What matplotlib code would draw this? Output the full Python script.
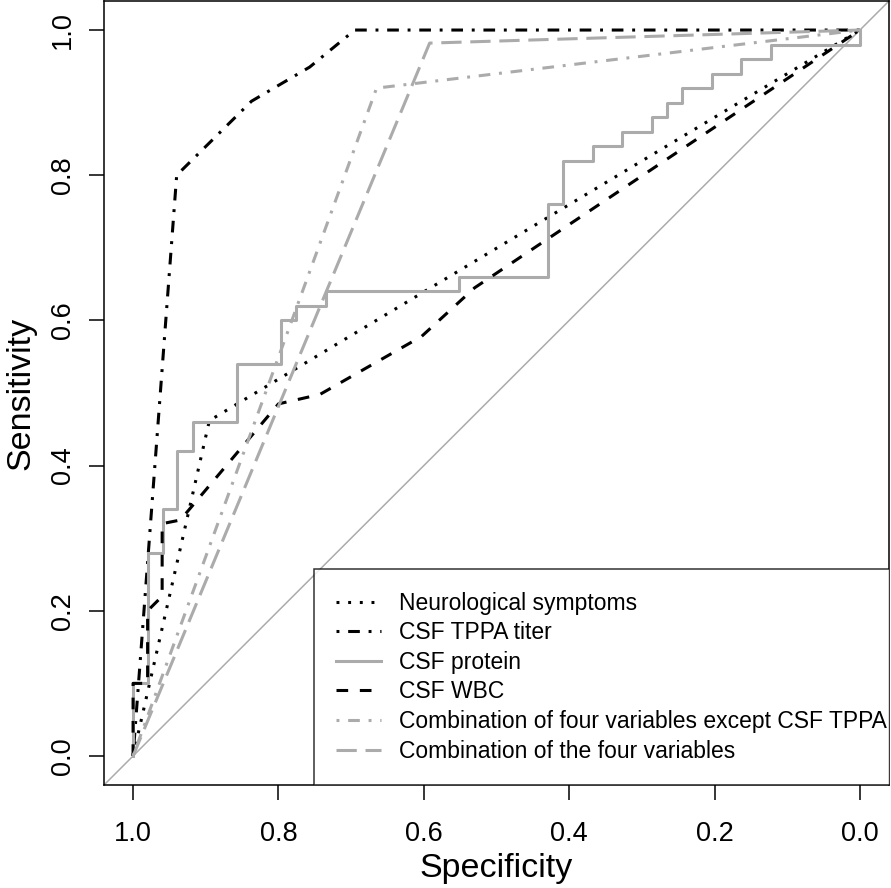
import matplotlib
matplotlib.use("Agg")
import matplotlib.pyplot as plt

plt.rcParams['font.family'] = ['Liberation Sans', 'DejaVu Sans']
plt.rcParams['lines.scale_dashes'] = False

# ROC curves (specificity, sensitivity)
neuro_spec = [1.0, 0.895, 0.0]
neuro_sens = [0.0, 0.462, 1.0]

tppa_spec = [1.0, 0.94, 0.837, 0.757, 0.695, 0.0]
tppa_sens = [0.0, 0.80, 0.902, 0.949, 1.0, 1.0]

protein_spec = [1.0, 0.98, 0.959, 0.939, 0.918, 0.857, 0.796, 0.776, 0.735, 0.551,
                0.429, 0.408, 0.367, 0.327, 0.286, 0.265, 0.245, 0.204, 0.163, 0.122,
                0.0, 0.0]
protein_sens = [0.0, 0.10, 0.28, 0.34, 0.42, 0.46, 0.54, 0.60, 0.62, 0.64,
                0.66, 0.76, 0.82, 0.84, 0.86, 0.88, 0.90, 0.92, 0.94, 0.96,
                0.98, 1.0]

wbc_spec = [1.0, 1.0, 0.98, 0.98, 0.96, 0.96, 0.935, 0.80, 0.743, 0.603, 0.53, 0.0]
wbc_sens = [0.0, 0.10, 0.10, 0.20, 0.22, 0.32, 0.325, 0.485, 0.498, 0.578, 0.645, 1.0]

comb3_spec = [1.0, 0.665, 0.0]
comb3_sens = [0.0, 0.92, 1.0]

comb4_spec = [1.0, 0.592, 0.0]
comb4_sens = [0.0, 0.982, 1.0]

labels = ["Neurological symptoms", "CSF TPPA titer", "CSF protein", "CSF WBC",
          "Combination of four variables except CSF TPPA",
          "Combination of the four variables"]

grey = '#ababab'
lw = 2.2
dotted = (0, (2.1, 6.3))
dotdash = (0, (2.1, 6.3, 8.4, 6.3))
dashed = (0, (8.4, 8.4))
longdash = (0, (14.6, 6.3))

fig = plt.figure(figsize=(8.91, 8.88), dpi=100)
ax = fig.add_axes([104 / 891, 103 / 888, 785 / 891, 784 / 888])

ax.axline((1, 0), (0, 1), color=grey, lw=1.1, zorder=1)

ax.plot(neuro_spec, neuro_sens, color='black', lw=lw, ls=dotted, label=labels[0])
ax.plot(tppa_spec, tppa_sens, color='black', lw=lw, ls=dotdash, label=labels[1])
ax.plot(protein_spec, protein_sens, color=grey, lw=lw, drawstyle='steps-pre', label=labels[2])
ax.plot(wbc_spec, wbc_sens, color='black', lw=lw, ls=dashed, label=labels[3])
ax.plot(comb3_spec, comb3_sens, color=grey, lw=lw, ls=dotdash, label=labels[4])
ax.plot(comb4_spec, comb4_sens, color=grey, lw=lw, ls=longdash, label=labels[5])

ax.set_xlim(1.04, -0.04)
ax.set_ylim(-0.04, 1.04)
ticks = [1.0, 0.8, 0.6, 0.4, 0.2, 0.0]
ax.set_xticks(ticks)
ax.set_yticks(ticks)
ax.set_xticklabels(["%.1f" % t for t in ticks])
ax.set_yticklabels(["%.1f" % t for t in ticks])
ax.tick_params(direction='out', length=11, width=1.1, labelsize=19.5, pad=15)
ax.tick_params(axis='y', labelrotation=90, pad=9)
for t in ax.get_yticklabels():
    t.set_verticalalignment('center')

for s in ax.spines.values():
    s.set_linewidth(1.1)

ax.set_xlabel("Specificity", fontsize=24.5)
ax.set_ylabel("Sensitivity", fontsize=24.5)
ax.xaxis.set_label_coords(0.5, -0.106)
ax.xaxis.label.set_verticalalignment('center')
ax.yaxis.set_label_coords(-0.106, 0.5)
ax.yaxis.label.set_verticalalignment('center')

# legend box sits in the bottom-right corner, text running almost to the right edge
leg = ax.legend(loc='lower right', bbox_to_anchor=(1 + 20 / 785, 0), fontsize=16.5,
                frameon=True, fancybox=False, borderaxespad=0, borderpad=0.97,
                labelspacing=0.29, handlelength=1.95, handletextpad=0.8)
frame = leg.get_frame()
frame.set_edgecolor('black')
frame.set_linewidth(1.1)
frame.set_clip_box(ax.bbox)
frame.set_clip_on(True)

fig.savefig("out.png", dpi=100)
